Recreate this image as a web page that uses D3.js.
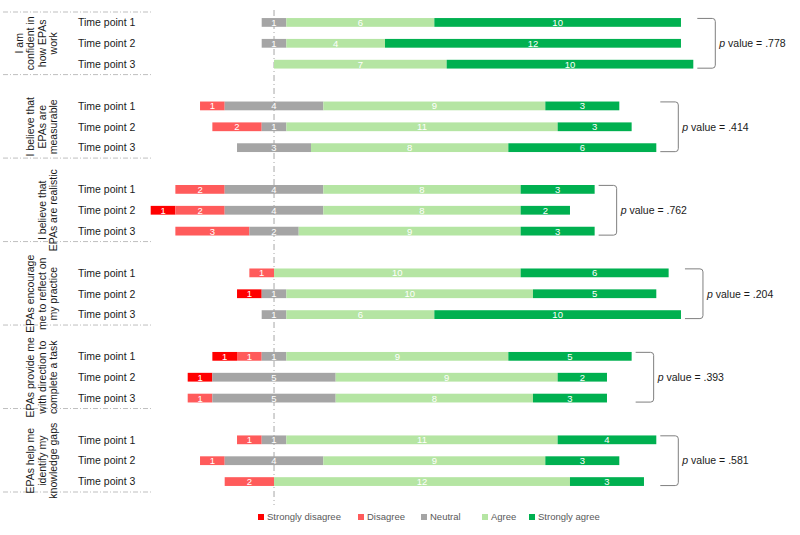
<!DOCTYPE html>
<html>
<head>
<meta charset="utf-8">
<script src="https://cdn.jsdelivr.net/npm/d3@7"></script>
<style>
  body { margin: 0; background: #fff; }
  text { font-family: "Liberation Sans", Arial, sans-serif; }
</style>
</head>
<body>
<div class="chart"></div>
<script>
let svgWidth = 800;
let svgHeight = 535;

// data
let questions = [
  ["I am", "confident in", "how EPAs", "work"],
  ["I believe that", "EPAs are", "measurable"],
  ["I believe that", "EPAs are realistic"],
  ["EPAs encourage", "me to reflect on", "my practice"],
  ["EPAs provide me", "with direction to", "complete a task"],
  ["EPAs help me", "identify my", "knowledge gaps"]
];
let timePoints = ["Time point 1", "Time point 2", "Time point 3"];
let categories = ["Strongly disagree", "Disagree", "Neutral", "Agree", "Strongly agree"];

let stronglyDisagree = [[0, 0, 0], [0, 0, 0], [0, 1, 0], [0, 1, 0], [1, 1, 0], [0, 0, 0]];
let disagree         = [[0, 0, 0], [1, 2, 0], [2, 2, 3], [1, 0, 0], [1, 0, 1], [1, 1, 2]];
let neutral          = [[1, 1, 0], [4, 1, 3], [4, 4, 2], [0, 1, 1], [1, 5, 5], [1, 4, 0]];
let agree            = [[6, 4, 7], [9, 11, 8], [8, 8, 9], [10, 10, 6], [9, 9, 8], [11, 9, 12]];
let stronglyAgree    = [[10, 12, 10], [3, 3, 6], [3, 2, 3], [6, 5, 10], [5, 2, 3], [4, 3, 3]];
let pValues = [".778", ".414", ".762", ".204", ".393", ".581"];

let colors = ["#ff0000", "#ff5b5b", "#a5a5a5", "#b5e5a3", "#00b050"];
let series = [stronglyDisagree, disagree, neutral, agree, stronglyAgree];

let svg = d3.select(".chart")
    .append("svg")
    .attr("width", svgWidth)
    .attr("height", svgHeight);

// row keys, a blank row before every group but the first
let rows = [];
questions.forEach((q, i) => {
    if (i > 0) rows.push(i + "-gap");
    timePoints.forEach((t, j) => rows.push(i + "-" + j));
});

let y = d3.scaleBand()
    .domain(rows)
    .range([12, 492]);

let x = d3.scaleLinear()
    .domain([-5, 17])
    .range([150.7, 693.3]);

let barH = y.bandwidth() * 0.42;

// build segments, neutral centred on zero
let bars = [];
questions.forEach((q, i) => {
    timePoints.forEach((t, j) => {
        let vals = series.map(s => s[i][j]);
        let start = -(vals[0] + vals[1] + vals[2] / 2);
        let segs = [];
        vals.forEach((v, k) => {
            segs.push({ q: i, t: j, k: k, v: v, x0: start, x1: start + v });
            start += v;
        });
        bars.push({ q: i, t: j, segs: segs, end: start });
    });
});

let segData = bars.flatMap(b => b.segs).filter(d => d.v > 0);

// separators on the left
let bounds = [0, 3, 7, 11, 15, 19, 23].map(r => 12 + r * y.step());
svg.selectAll(".sep")
    .data(bounds)
    .enter()
    .append("line")
    .attr("x1", 3)
    .attr("x2", 152)
    .attr("y1", d => d)
    .attr("y2", d => d)
    .attr("stroke", "#bfbfbf")
    .attr("stroke-width", 1)
    .attr("stroke-dasharray", "5,2,1,2");

// zero line
svg.append("line")
    .attr("x1", x(0))
    .attr("x2", x(0))
    .attr("y1", 10)
    .attr("y2", 505)
    .attr("stroke", "#a6a6a6")
    .attr("stroke-width", 1)
    .attr("stroke-dasharray", "6,3,1,3");

let rowY = d => y(d.q + "-" + d.t) + y.bandwidth() / 2;

svg.selectAll(".seg")
    .data(segData)
    .enter()
    .append("rect")
    .attr("x", d => x(d.x0))
    .attr("width", d => x(d.x1) - x(d.x0))
    .attr("y", d => rowY(d) - barH / 2)
    .attr("height", barH)
    .attr("fill", d => colors[d.k]);

svg.selectAll(".seglabel")
    .data(segData)
    .enter()
    .append("text")
    .attr("x", d => x((d.x0 + d.x1) / 2))
    .attr("y", d => rowY(d))
    .attr("dy", "0.36em")
    .attr("text-anchor", "middle")
    .attr("fill", "#fff")
    .style("font-size", "9.5px")
    .text(d => d.v);

// time point labels
svg.selectAll(".tp")
    .data(bars)
    .enter()
    .append("text")
    .attr("x", 78)
    .attr("y", d => rowY(d))
    .attr("dy", "0.36em")
    .attr("fill", "#1a1a1a")
    .style("font-size", "10.5px")
    .text(d => timePoints[d.t]);

// rotated question labels
questions.forEach((lines, i) => {
    let cy = (y(i + "-0") + y(i + "-2") + y.bandwidth()) / 2;
    let g = svg.append("text")
        .attr("transform", `translate(57, ${cy}) rotate(-90)`)
        .attr("text-anchor", "middle")
        .attr("fill", "#1a1a1a")
        .style("font-size", "10.5px");
    lines.forEach((l, k) => {
        g.append("tspan")
            .attr("x", 0)
            .attr("y", -(lines.length - 1 - k) * 11.3)
            .text(l);
    });
});

// brackets and p values
questions.forEach((q, i) => {
    let end = d3.max(bars.filter(b => b.q == i), b => b.end);
    let left = x(end) + 4;
    let right = left + 18;
    let top = y(i + "-0") + y.bandwidth() / 2 - 4;
    let bottom = y(i + "-2") + y.bandwidth() / 2 + 4;
    let r = 3;
    svg.append("path")
        .attr("d", `M${left},${top} H${right - r} Q${right},${top} ${right},${top + r} V${bottom - r} Q${right},${bottom} ${right - r},${bottom} H${left}`)
        .attr("fill", "none")
        .attr("stroke", "#7f7f7f")
        .attr("stroke-width", 1);

    let t = svg.append("text")
        .attr("x", right + 4)
        .attr("y", (top + bottom) / 2)
        .attr("dy", "0.36em")
        .attr("fill", "#1a1a1a")
        .style("font-size", "10.5px");
    t.append("tspan").style("font-style", "italic").text("p");
    t.append("tspan").text(" value = " + pValues[i]);
});

// legend
let legendX = [258, 358, 421, 482, 529];
let legend = svg.selectAll(".legend")
    .data(categories)
    .enter()
    .append("g")
    .attr("transform", (d, i) => `translate(${legendX[i]}, 517)`);

legend.append("rect")
    .attr("x", 0)
    .attr("y", -3)
    .attr("width", 6)
    .attr("height", 6)
    .attr("fill", (d, i) => colors[i]);

legend.append("text")
    .attr("x", 9)
    .attr("y", 0)
    .attr("dy", "0.35em")
    .attr("fill", "#595959")
    .style("font-size", "9.5px")
    .text(d => d);
</script>
</body>
</html>
